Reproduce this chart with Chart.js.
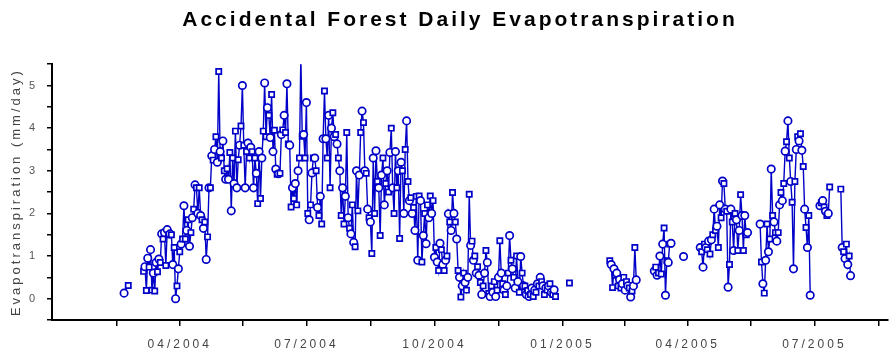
<!DOCTYPE html>
<html><head><meta charset="utf-8">
<script src="https://cdn.jsdelivr.net/npm/chart.js@4/dist/chart.umd.min.js"></script>
<style>html,body{margin:0;padding:0;background:#fff}#wrap{width:893px;height:351px;position:relative}</style>
</head><body><div id="wrap"><canvas id="c"></canvas></div>
<script>
// x values are days since 2004-01-01
const tickDays = [45.5, 91, 136.5, 182, 228, 274, 320, 366, 411, 456, 501.5, 547, 593];
const tickLabels = ['', '04/2004', '', '07/2004', '', '10/2004', '', '01/2005', '', '04/2005', '', '07/2005', ''];
const yTickValues = [-0.5, 0, 0.5, 1, 1.5, 2, 2.5, 3, 3.5, 4, 4.5, 5, 5.5];

// Daily evapotranspiration (mm/day), grouped in measurement runs
const febDays = [51, 54];
const febET = [0.13, 0.31];

const run2004Start = 65;
const run2004ET = [
  0.64,0.75,0.19,0.95,0.74,1.15,0.2,0.6,0.18,0.85,
  0.63,0.93,0.85,1.52,1.4,1.55,0.78,1.62,1.5,1.52,
  1.5,0.8,1.2,0.0,0.3,0.7,1.1,1.28,1.4,2.18,
  1.4,1.6,1.85,1.23,1.55,1.9,2.1,2.67,2.6,2.0,
  2.6,1.95,1.85,1.65,1.8,0.92,1.45,2.6,2.6,3.35,
  3.25,3.5,3.8,3.2,5.33,3.45,3.3,3.7,3.0,2.8,
  3.05,2.8,3.43,2.06,3.3,2.7,3.93,2.6,3.26,3.6,
  4.05,5.0,3.6,2.6,3.45,3.65,3.3,3.55,3.45,2.6,
  3.3,2.94,2.23,3.45,2.35,3.3,3.93,5.06,3.8,4.48,
  4.3,3.78,4.79,3.45,3.95,3.04,2.92,2.93,2.94,3.85,
  3.96,4.3,3.9,5.04,3.63,3.6,2.15,2.6,2.35,2.7,
  2.2,3.0,3.3,5.7,3.81,3.85,3.3,4.6,2.0,1.85,
  2.2,2.95,3.3,3.3,3.0,2.14,1.95,2.4,1.75,3.75,
  4.87,3.75,3.3,4.3,2.6,4.0,4.36,3.8,3.85,3.63,
  3.3,3.0,1.95,2.6,1.75,2.4,3.9,1.9,1.65,1.52,
  2.2,1.32,1.22,3.0,2.06,2.9,3.9,4.4,4.13,3.0,
  2.94,2.1,1.9,1.8,1.06,3.3,2.0,3.47,2.75,2.6,
  1.48,2.9,3.3,2.2,2.7,3.0,2.5,3.43,4.0,2.6,
  2.0,3.45,2.6,3.0,1.41,3.2,3.0,2.0,3.5,4.17,
  2.75,2.3,2.37,2.0,2.14,1.6,2.4,0.9,2.41,2.3,
  0.86,1.48,2.0,1.29,2.2,1.9,2.41,2.0,2.3,0.97,
  1.2,0.86,0.66,1.3,1.15,0.8,0.66,0.9,1.0,1.99,
  1.8,1.6,2.49,2.0,1.8,1.4,0.66,0.5,0.04,0.3,
  0.6,0.38,0.2,0.5,2.45,1.25,1.35,0.9,1.0,0.6,
  0.75,0.55,0.38,0.1,0.3,0.6,1.13,0.85,0.12,0.05,
  0.3,0.15,0.4,0.05,0.2,0.5,1.36,0.6,0.35,0.2,
  0.1,0.3,0.6,1.48,0.9,0.7,0.5,0.25,1.0,0.4,
  0.15,0.99,0.6,0.3,0.3,0.1,0.19,0.05,0.1,0.25,
  0.05,0.2,0.15,0.35,0.3,0.5,0.4,0.3,0.1,0.25,
  0.2,0.3,0.35,0.15,0.1,0.21,0.05
];

const janStart = 371;
const janET = [0.37];

const febMar05Start = 400;
const febMar05ET = [0.89,0.8,0.26,0.7,0.55,0.6,0.3,0.45,0.25,0.35,0.5,0.2,0.4,0.3,0.25,0.04,0.18,0.3,1.2,0.44];

const mar05Start = 432;
const mar05ET = [0.65,0.74,0.55,0.6,1.0,0.58,1.28,1.66,0.08,0.89,0.85,1.28,1.3];

const apr05Start = 453;
const apr05ET = [0.99];

const aprMay05Start = 465;
const aprMay05ET = [1.2,1.1,0.74,1.28,1.2,1.15,1.35,1.05,1.38,1.5,2.1,1.6,1.7,1.2,2.2,1.9,2.76,2.7,2.1,2.05,
  0.27,0.8,2.1,1.8,1.13,2.0,1.85,1.13,1.6,2.44,1.95,1.13,1.95,1.5,1.55];

const mayJun05Start = 508;
const mayJun05ET = [1.75,0.86,0.35,0.13,0.9,1.75,1.1,1.4,3.04,1.95,1.8,1.55,1.35,1.55,2.2,2.49,2.3,2.7,3.46,3.68,
  4.17,3.3,2.75,2.26,0.7,2.75,3.5,3.8,3.7,3.87,3.48,3.1,2.1,1.67,1.2,1.95,0.08];

const jul05Start = 551;
const jul05ET = [2.18,2.25,2.3,2.15,2.05,1.95,2.0,2.62];

const julAug05Start = 566;
const julAug05ET = [2.57,1.2,1.1,0.94,1.28,0.8,1.0,0.54];

// assemble points, with a null between separate measurement runs
const points = [];
function addRun(xs, ys) {
  if (points.length) points.push({x: xs[0] - 0.5, y: null});
  xs.forEach((x, i) => points.push({x: x, y: ys[i]}));
}
function addDaily(start, ys) {
  addRun(ys.map((_, i) => start + i), ys);
}
addRun(febDays, febET);
addDaily(run2004Start, run2004ET);
addDaily(janStart, janET);
addDaily(febMar05Start, febMar05ET);
addDaily(mar05Start, mar05ET);
addDaily(apr05Start, apr05ET);
addDaily(aprMay05Start, aprMay05ET);
addDaily(mayJun05Start, mayJun05ET);
addDaily(jul05Start, jul05ET);
addDaily(julAug05Start, julAug05ET);

const FONT = "'Liberation Sans', Arial, Helvetica, sans-serif";
const spacing = {
  id: 'spacing',
  beforeLayout(chart) { chart.ctx.letterSpacing = '3px'; },
  beforeDraw(chart) { chart.ctx.letterSpacing = '3px'; }
};

new Chart(document.getElementById('c'), {
  type: 'line',
  data: {
    datasets: [{
      data: points,
      borderColor: '#0000c8',
      borderWidth: 1.4,
      spanGaps: false,
      tension: 0,
      pointRadius: 3.7,
      pointBorderWidth: 1.7,
      pointBorderColor: '#0000c8',
      pointBackgroundColor: '#ffffff',
      pointStyle: ctx => (ctx.dataIndex % 2 ? 'rect' : 'circle')
    }]
  },
  options: {
    responsive: true,
    maintainAspectRatio: false,
    animation: false,
    layout: { padding: { left: 29, right: 2, top: 4, bottom: 0 } },
    plugins: {
      legend: { display: false },
      tooltip: { enabled: false },
      title: {
        display: true,
        text: 'Accidental Forest Daily Evapotranspiration',
        color: '#000',
        font: { family: FONT, size: 21, weight: 'bold' },
        padding: { top: 4, bottom: 31 }
      }
    },
    scales: {
      x: {
        type: 'linear',
        min: -0.8,
        max: 599.4,
        afterBuildTicks: s => { s.ticks = tickDays.map(v => ({ value: v })); },
        afterFit: s => { s.height = 31; },
        ticks: {
          autoSkip: false, maxRotation: 0, minRotation: 0,
          callback: (v, i) => tickLabels[i],
          color: '#444', padding: 11,
          font: { family: FONT, size: 12 }
        },
        grid: { drawOnChartArea: false, drawTicks: true, tickLength: 6, color: '#000', lineWidth: 1.5 },
        border: { display: true, color: '#000', width: 2 }
      },
      y: {
        min: -0.5,
        max: 5.5,
        afterBuildTicks: s => { s.ticks = yTickValues.map(v => ({ value: v })); },
        afterFit: s => { s.width = 23; },
        ticks: {
          callback: v => (Number.isInteger(v) ? String(v) : ''),
          color: '#555', padding: 9,
          font: { family: FONT, size: 11 }
        },
        grid: { drawOnChartArea: false, drawTicks: true, tickLength: 5, color: '#000', lineWidth: 1.5 },
        border: { display: true, color: '#000', width: 2 },
        title: {
          display: true,
          text: 'Evapotranspiration (mm/day)',
          color: '#444',
          font: { family: FONT, size: 13 },
          padding: { top: -20, bottom: 0 }
        }
      }
    }
  },
  plugins: [spacing]
});
</script></body></html>
